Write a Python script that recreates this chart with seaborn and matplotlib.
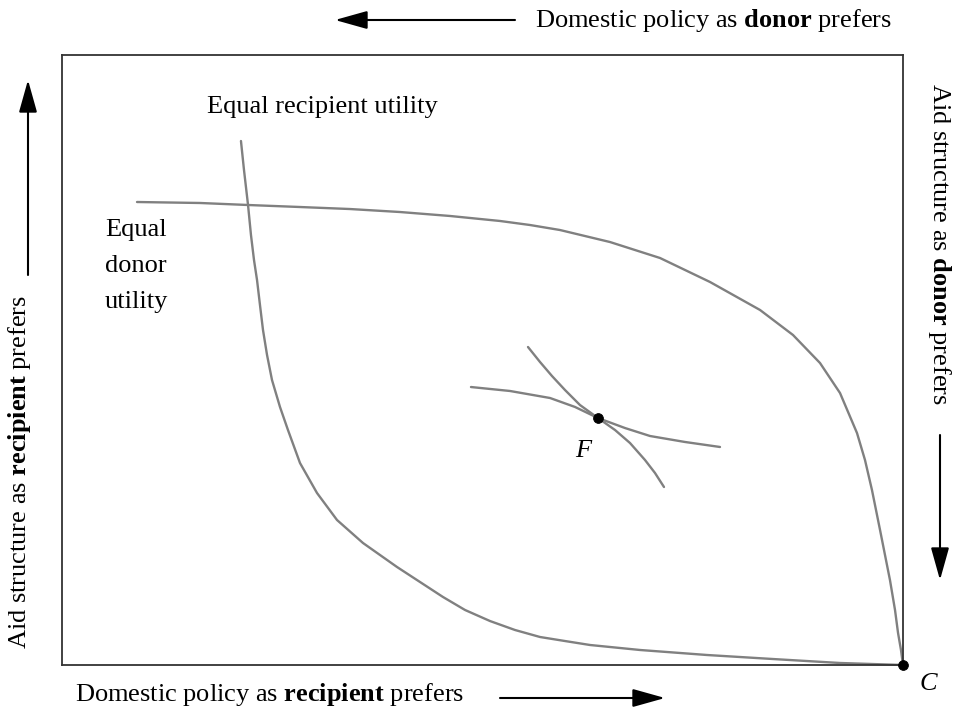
import numpy as np
import pandas as pd
import matplotlib
matplotlib.use("Agg")
import matplotlib.pyplot as plt
from matplotlib.patches import FancyArrowPatch
import seaborn as sns

# ---- data (axis units 0..100 inside the box) ----
recip_x = [21.28, 21.64, 22.12, 22.47, 22.83, 23.19, 23.54, 23.90, 24.38, 24.97, 25.92,
           26.87, 28.30, 30.32, 32.70, 35.79, 39.83, 45.30, 47.92, 50.89, 53.86, 56.84,
           59.81, 62.78, 68.73, 76.69, 84.54, 92.51, 100.0]
recip_y = [85.90, 81.15, 75.41, 70.49, 66.39, 63.11, 59.02, 54.92, 50.82, 46.72, 42.30,
           38.52, 33.11, 28.20, 23.77, 20.00, 16.07, 11.15, 9.02, 7.21, 5.74, 4.59,
           3.93, 3.28, 2.46, 1.64, 0.98, 0.33, 0.0]

donor_x = [8.92, 16.41, 22.12, 28.30, 34.24, 40.19, 46.14, 52.08, 55.65, 59.21, 65.16,
           71.11, 77.05, 83.00, 86.92, 90.13, 92.51, 94.53, 95.48, 96.31, 97.27, 97.86,
           98.45, 99.05, 99.41, 99.76, 100.0]
donor_y = [75.90, 75.74, 75.41, 75.08, 74.75, 74.26, 73.61, 72.79, 72.13, 71.31, 69.34,
           66.72, 62.79, 58.20, 54.10, 49.51, 44.59, 38.03, 33.61, 28.69, 22.13, 18.03,
           13.93, 9.02, 5.25, 2.46, 0.0]

f_donor_x = [48.63, 53.27, 58.03, 61.00, 63.73, 66.94, 69.92, 74.08, 78.24]
f_donor_y = [45.57, 44.92, 43.77, 42.30, 40.49, 38.85, 37.54, 36.56, 35.74]

f_recip_x = [55.41, 56.84, 58.26, 59.81, 61.59, 63.73, 65.76, 67.54, 69.32, 70.51, 71.58]
f_recip_y = [52.13, 49.67, 47.38, 45.08, 42.62, 40.49, 38.52, 36.39, 33.61, 31.48, 29.18]

point_labels = ["F", "C"]
point_x = [63.73, 100.0]
point_y = [40.49, 0.0]

curve_labels = ["Equal recipient utility", "Equal\ndonor\nutility"]
axis_texts = {
    "top": r"Domestic policy as $\mathbf{donor}$ prefers",
    "bottom": r"Domestic policy as $\mathbf{recipient}$ prefers",
    "left": r"Aid structure as $\mathbf{recipient}$ prefers",
    "right": r"Aid structure as $\mathbf{donor}$ prefers",
}

# ---- style ----
sns.set_theme(style="white")
plt.rcParams["font.family"] = ["Liberation Serif", "DejaVu Serif"]
plt.rcParams["mathtext.fontset"] = "custom"
plt.rcParams["mathtext.rm"] = "Liberation Serif"
plt.rcParams["mathtext.bf"] = "Liberation Serif:bold"
plt.rcParams["mathtext.it"] = "Liberation Serif:italic"
plt.rcParams["text.color"] = "black"

W, H = 956, 715
fig = plt.figure(figsize=(W / 100, H / 100), dpi=100)
ax = fig.add_axes([62 / W, (H - 665) / H, (903 - 62) / W, (665 - 55) / H])

gray = "#808080"
for xs, ys in [(recip_x, recip_y), (donor_x, donor_y), (f_donor_x, f_donor_y), (f_recip_x, f_recip_y)]:
    df = pd.DataFrame({"x": xs, "y": ys})
    sns.lineplot(data=df, x="x", y="y", sort=False, estimator=None, color=gray,
                 linewidth=1.7, ax=ax, clip_on=False)

pts = pd.DataFrame({"x": point_x, "y": point_y, "lab": point_labels})
sns.scatterplot(data=pts, x="x", y="y", color="black", s=50, edgecolor="black",
                ax=ax, clip_on=False, zorder=5, legend=False)

ax.set_xlim(0, 100)
ax.set_ylim(0, 100)
ax.set_xticks([])
ax.set_yticks([])
ax.set_xlabel("")
ax.set_ylabel("")
for sp in ax.spines.values():
    sp.set_visible(True)
    sp.set_color("#333333")
    sp.set_linewidth(1.3)

fs = 19
# point labels
ax.annotate(point_labels[0], (point_x[0], point_y[0]), xytext=(-15, -33), textcoords="offset pixels",
            ha="center", va="center", fontsize=fs, style="italic")
ax.annotate(point_labels[1], (point_x[1], point_y[1]), xytext=(25, -19), textcoords="offset pixels",
            ha="center", va="center", fontsize=fs, style="italic", annotation_clip=False)

# curve labels
fig.text(207 / W, 1 - 107 / H, curve_labels[0], ha="left", va="center", fontsize=fs)
fig.text(105 / W, 1 - 266 / H, curve_labels[1], ha="left", va="center", fontsize=fs,
         linespacing=1.84)

# axis descriptions
fig.text(535 / W, 1 - 21 / H, axis_texts["top"], ha="left", va="center", fontsize=fs)
fig.text(75 / W, 1 - 695 / H, axis_texts["bottom"], ha="left", va="center", fontsize=fs)
fig.text(20 / W, 1 - 472 / H, axis_texts["left"], ha="center", va="center", fontsize=fs,
         rotation=90)
fig.text(940 / W, 1 - 244 / H, axis_texts["right"], ha="center", va="center", fontsize=fs,
         rotation=-90)

arrow_kw = dict(arrowstyle="-|>,head_length=1.0,head_width=0.28", color="black", lw=1.5,
                shrinkA=0, shrinkB=0, mutation_scale=20)
def farrow(x0, y0, x1, y1):
    fig.add_artist(FancyArrowPatch(
        (x0 / W, 1 - y0 / H), (x1 / W, 1 - y1 / H), transform=fig.transFigure, **arrow_kw))

farrow(515, 20, 335, 20)
farrow(500, 698, 665, 698)
farrow(28, 275, 28, 80)
farrow(940, 435, 940, 580)

fig.savefig("out.png", dpi=100, facecolor="white")
